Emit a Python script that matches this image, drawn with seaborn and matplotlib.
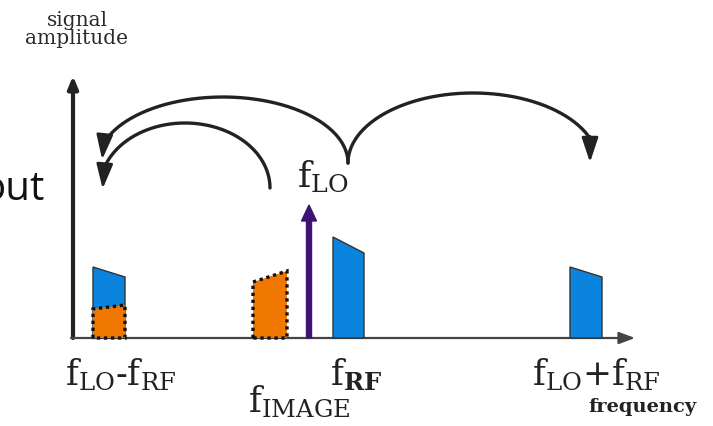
import numpy as np
import matplotlib
matplotlib.use("Agg")
import matplotlib.pyplot as plt
from matplotlib.patches import Polygon, FancyArrowPatch
import seaborn as sns

# -------------------------------
# Spectrum data (frequency / amplitude in drawing units)
# -------------------------------
band_names = ["LO-RF", "LO-RF image", "IMAGE", "RF", "LO+RF"]
band_left = [20, 20, 180, 260, 497]
band_width = [32, 32, 34, 31, 32]
band_amp_left = [71, 29, 56, 101, 71]
band_amp_right = [61, 33, 67, 85, 61]
band_kind = ["signal", "image", "image", "signal", "signal"]

lo_freq = 236
lo_amp = 133

# mixing arcs: elliptical, start/end angle (deg), arrow at the end
arc_cx = [150, 112, 400]
arc_cy = [175, 150, 175]
arc_a = [125, 85, 125]
arc_b = [66, 65, 70]
arc_t0 = [0, 0, 180]
arc_t1 = [162, 161, 20.6]
arc_drop = [17, 22, 24]

# text labels
freq_labels = [
    r"$\mathrm{f}_{\mathrm{LO}}$-$\mathrm{f}_{\mathrm{RF}}$",
    r"$\mathrm{f}_{\mathrm{IMAGE}}$",
    r"$\mathrm{f}_{\mathbf{RF}}$",
    r"$\mathrm{f}_{\mathrm{LO}}$+$\mathrm{f}_{\mathrm{RF}}$",
]
freq_label_x = [-8, 175, 257, 459]
freq_label_y = [-47, -74, -47, -47]

BLUE = "#0a84dc"
ORANGE = "#f07800"
PURPLE = "#3c1478"
INK = "#222222"

# -------------------------------
# Figure
# -------------------------------
sns.set_theme(style="white")
plt.rcParams["mathtext.fontset"] = "dejavuserif"

fig = plt.figure(figsize=(7.13, 4.26), dpi=100)
ax = fig.add_axes([0, 0, 1, 1])
ax.set_xlim(-73, 640)
ax.set_ylim(-88, 338)
ax.set_aspect("equal")
ax.axis("off")

# axes arrows
ax.annotate("", xy=(0, 262), xytext=(0, 0),
            arrowprops=dict(arrowstyle="-|>,head_width=0.25,head_length=0.6",
                            lw=3, color=INK, shrinkA=0, shrinkB=0))
ax.annotate("", xy=(562, 0), xytext=(-2, 0),
            arrowprops=dict(arrowstyle="-|>,head_width=0.3,head_length=0.8",
                            lw=1.6, color="#444444", shrinkA=0, shrinkB=0))

# bands
for l, w, hl, hr, kind in zip(band_left, band_width, band_amp_left,
                              band_amp_right, band_kind):
    pts = [(l, 0), (l, hl), (l + w, hr), (l + w, 0)]
    if kind == "signal":
        ax.add_patch(Polygon(pts, closed=True, facecolor=BLUE,
                             edgecolor="#333333", lw=1.0, zorder=3))
    else:
        ax.add_patch(Polygon(pts, closed=True, facecolor=ORANGE,
                             edgecolor="#111111", lw=2.4,
                             linestyle=(0, (1, 1.1)), zorder=4))

# LO line
ax.arrow(lo_freq, 0, 0, lo_amp, width=5, head_width=15, head_length=16,
         length_includes_head=True, color=PURPLE, zorder=5)

# arcs with arrowheads
for cx, cy, a, b, t0, t1, drop in zip(arc_cx, arc_cy, arc_a, arc_b,
                                      arc_t0, arc_t1, arc_drop):
    t = np.radians(np.linspace(t0, t1, 150))
    xs = cx + a * np.cos(t)
    ys = cy + b * np.sin(t)
    ax.plot(xs, ys, color=INK, lw=2.4, solid_capstyle="round", zorder=6)
    tail = (xs[-1], ys[-1] + 2)
    tip = (xs[-1] - 2 if t1 > 90 else xs[-1], ys[-1] - drop)
    ax.add_patch(FancyArrowPatch(tail, tip,
                                 arrowstyle="-|>,head_width=5,head_length=15",
                                 color=INK, lw=2.0, mutation_scale=1,
                                 shrinkA=0, shrinkB=0, zorder=6))

# text
ax.text(4, 327, "signal\namplitude", ha="center", va="top",
        family="DejaVu Serif", fontsize=14.5, color="#2a2a2a",
        linespacing=0.9)
ax.text(-28, 138, "out", ha="right", va="baseline", family="Open Sans",
        fontsize=29, color="#111111")
ax.text(224, 151, r"$\mathrm{f}_{\mathrm{LO}}$", ha="left", va="baseline",
        family="DejaVu Serif", fontsize=26, color=INK)
for lab, x, y in zip(freq_labels, freq_label_x, freq_label_y):
    ax.text(x, y, lab, ha="left", va="baseline", family="DejaVu Serif",
            fontsize=25, color=INK)
ax.text(624, -74, "frequency", ha="right", va="baseline",
        family="DejaVu Serif", fontsize=14, fontweight="bold", color=INK)

fig.savefig("out.png", dpi=100)
